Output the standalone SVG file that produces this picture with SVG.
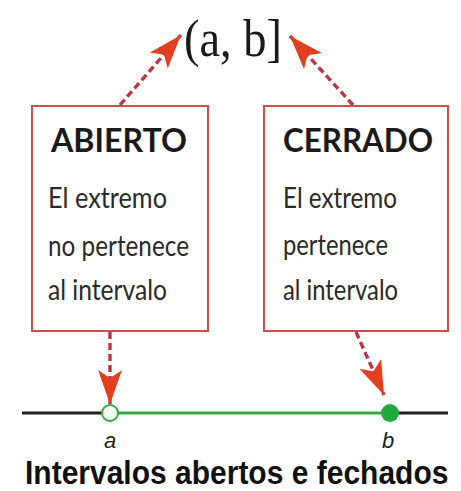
<svg xmlns="http://www.w3.org/2000/svg" width="461" height="491" viewBox="0 0 461 491">
<style>
.box{fill:#ffffff;stroke:#c8524c;stroke-width:2}
.hd{font-family:Lato,"Liberation Sans",sans-serif;font-weight:bold;font-size:33px;fill:#1a1a1a}
.tx{font-family:Lato,"Liberation Sans",sans-serif;font-size:29px;fill:#2a2a2a}
.dash{fill:none;stroke:#c03545;stroke-width:3.4;stroke-dasharray:7 4}
.lbl{font-family:"Liberation Sans",sans-serif;font-style:italic;font-size:22px;fill:#222}
</style>
<defs>
<marker id="ah" viewBox="0 0 34 24" refX="34" refY="12" markerWidth="34" markerHeight="24" markerUnits="userSpaceOnUse" orient="auto">
<path d="M0,0 L34,12 L0,24 L8,12 z" fill="#e0401f"/>
</marker>
</defs>
<rect width="461" height="491" fill="#ffffff"/>
<g id="title">
<text x="184" y="56" font-family="'Liberation Serif',serif" font-size="52" fill="#1a1a1a" textLength="98" lengthAdjust="spacingAndGlyphs">(a, b]</text>
</g>
<g id="numberline">
<line x1="22" y1="413" x2="110" y2="413" stroke="#222" stroke-width="3"/>
<line x1="390" y1="413" x2="448" y2="413" stroke="#222" stroke-width="3"/>
<line x1="110" y1="413" x2="390" y2="413" stroke="#3aa845" stroke-width="3"/>
<circle cx="110" cy="413" r="8" fill="#f2fbf4" stroke="#3aa845" stroke-width="2"/>
<circle cx="390" cy="413" r="9" fill="#22a83c"/>
<text class="lbl" x="104" y="448">a</text>
<text class="lbl" x="382" y="448">b</text>
</g>
<g id="abierto">
<rect class="box" x="32" y="106" width="176" height="225"/>
<text class="hd" x="51" y="152" textLength="136" lengthAdjust="spacingAndGlyphs">ABIERTO</text>
<text class="tx" x="48" y="208" textLength="119" lengthAdjust="spacingAndGlyphs">El extremo</text>
<text class="tx" x="48" y="256" textLength="141" lengthAdjust="spacingAndGlyphs">no pertenece</text>
<text class="tx" x="48" y="300" textLength="119" lengthAdjust="spacingAndGlyphs">al intervalo</text>
</g>
<g id="cerrado">
<rect class="box" x="264" y="106" width="184" height="225"/>
<text class="hd" x="283" y="152" textLength="150" lengthAdjust="spacingAndGlyphs">CERRADO</text>
<text class="tx" x="283" y="208" textLength="114" lengthAdjust="spacingAndGlyphs">El extremo</text>
<text class="tx" x="283" y="255" textLength="105" lengthAdjust="spacingAndGlyphs">pertenece</text>
<text class="tx" x="283" y="300" textLength="115" lengthAdjust="spacingAndGlyphs">al intervalo</text>
</g>
<g id="connectors">
<line class="dash" x1="120" y1="105" x2="181" y2="35" marker-end="url(#ah)"/>
<line class="dash" x1="353" y1="105" x2="290" y2="36" marker-end="url(#ah)"/>
<line class="dash" x1="110" y1="332" x2="110" y2="404" marker-end="url(#ah)"/>
<line class="dash" x1="356" y1="332" x2="384" y2="395" marker-end="url(#ah)"/>
</g>
<g id="caption">
<text transform="translate(25,484) scale(1,1.12)" x="0" y="0" font-family="'Liberation Sans',Arial,sans-serif" font-weight="bold" font-size="30" fill="#111">Intervalos abertos e fechados</text>
</g>
</svg>
